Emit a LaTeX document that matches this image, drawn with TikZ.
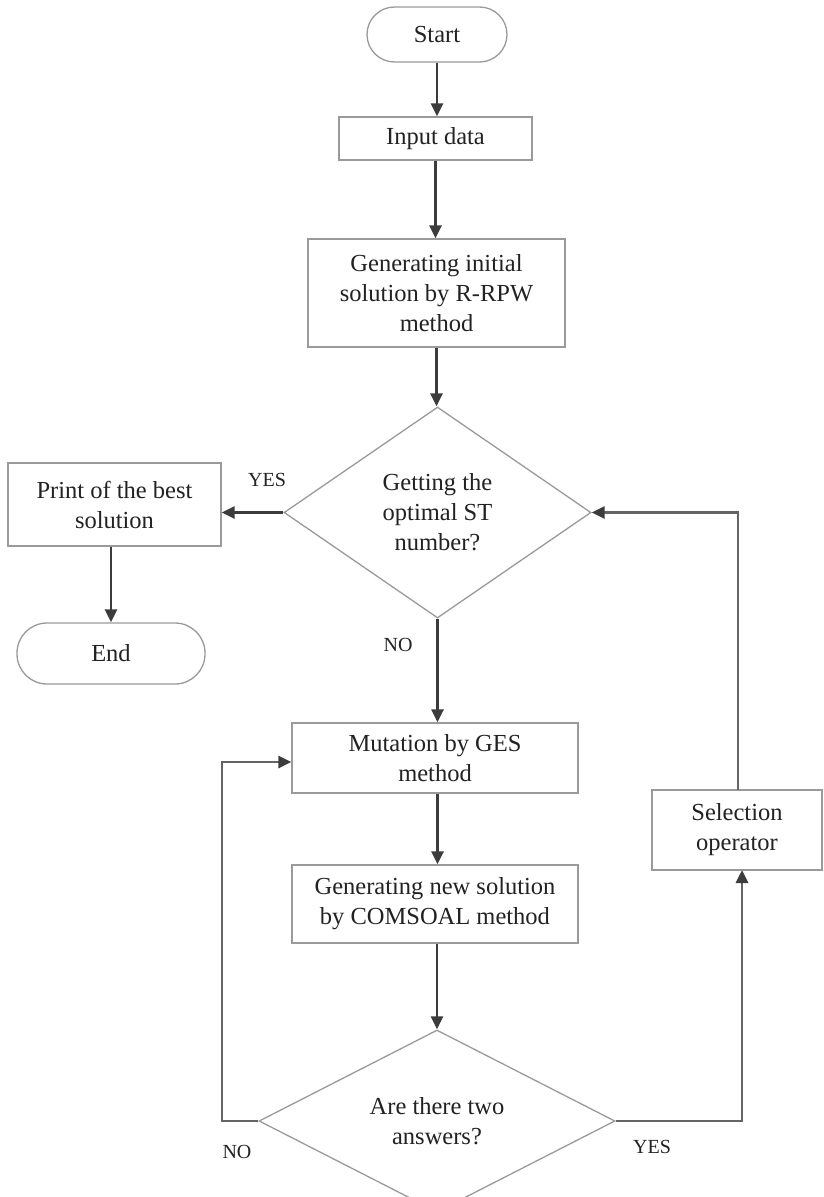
\documentclass[tikz,border=0pt]{standalone}
\usepackage{fontspec}
\setmainfont{Liberation Serif}
\usetikzlibrary{shapes.geometric,arrows.meta,calc}
\definecolor{boxgray}{HTML}{9A9A9A}
\definecolor{arrgray}{HTML}{3C3C3C}
\definecolor{loopgray}{HTML}{646464}
\definecolor{txt}{HTML}{222222}
\tikzset{
  base/.style={draw=boxgray, line width=1.3pt, text=txt, align=center, inner sep=0pt,
    font=\fontsize{24.5}{30}\selectfont},
  procbox/.style={base, rectangle},
  termbox/.style={base, rectangle, rounded corners=#1},
  decbox/.style={base, diamond},
  arr/.style={draw=arrgray, line width=2.9pt, -{Triangle[length=13pt,width=12pt]}},
  looparr/.style={draw=loopgray, line width=2.9pt, -{Triangle[length=13pt,width=12pt,color=arrgray]}},
  lbl/.style={text=txt, inner sep=0pt, font=\fontsize{20}{24}\selectfont}
}
\begin{document}
\begin{tikzpicture}[x=1pt,y=-1pt]
\useasboundingbox (0,0) rectangle (823,1197);
\fill[white] (0,0) rectangle (823,1197);

\node[termbox=27.5pt, minimum width=140pt, minimum height=55pt] (start) at (437,34.5) {Start};
\node[procbox, minimum width=193pt, minimum height=43pt] (input) at (435.5,138.5) {Input data};
\node[procbox, minimum width=257pt, minimum height=108pt] (init) at (436.5,293) {Generating initial\\solution by R-RPW\\method};
\node[decbox, minimum width=307pt, minimum height=211pt] (dec1) at (437.5,512.5) {Getting the\\optimal ST\\number?};
\node[procbox, minimum width=213pt, minimum height=83pt] (print) at (114.5,504.5) {Print of the best\\solution};
\node[termbox=30pt, minimum width=188pt, minimum height=61pt] (end) at (111,653.5) {End};
\node[procbox, minimum width=286pt, minimum height=70pt] (mut) at (435,758) {Mutation by GES\\method};
\node[procbox, minimum width=286pt, minimum height=78pt] (gen) at (435,904) {Generating new solution\\by COMSOAL method};
\node[decbox, minimum width=356pt, minimum height=154pt] (dec2) at (437,1121) {Are there two\\answers?};
\node[procbox, minimum width=170pt, minimum height=80pt] (sel) at (737,830) {Selection\\operator};

\node[lbl] (yes1) at (267,480) {YES};
\node[lbl] (no1) at (398,645) {NO};
\node[lbl] (no2) at (237,1152) {NO};
\node[lbl] (yes2) at (652,1147) {YES};

\coordinate (lc) at (222,762);
\coordinate (rb) at (742,870);
\coordinate (rt) at (738,790);

\draw[arr] (start.south) -- (start.south |- input.north);
\draw[arr] (input.south) -- (input.south |- init.north);
\draw[arr] (init.south) -- (init.south |- dec1.north);
\draw[arr] (dec1.west) -- (dec1.west -| print.east);
\draw[arr] (print.south -| end.north) -- (end.north);
\draw[arr] (dec1.south) -- (dec1.south |- mut.north);
\draw[arr] (mut.south -| dec1.south) -- (dec1.south |- gen.north);
\draw[arr] (gen.south -| dec2.north) -- (dec2.north);
\draw[looparr] (dec2.west) -| (lc) -- (lc -| mut.west);
\draw[looparr] (dec2.east) -| (rb);
\draw[looparr] (rt) |- (dec1.east);
\end{tikzpicture}
\end{document}
